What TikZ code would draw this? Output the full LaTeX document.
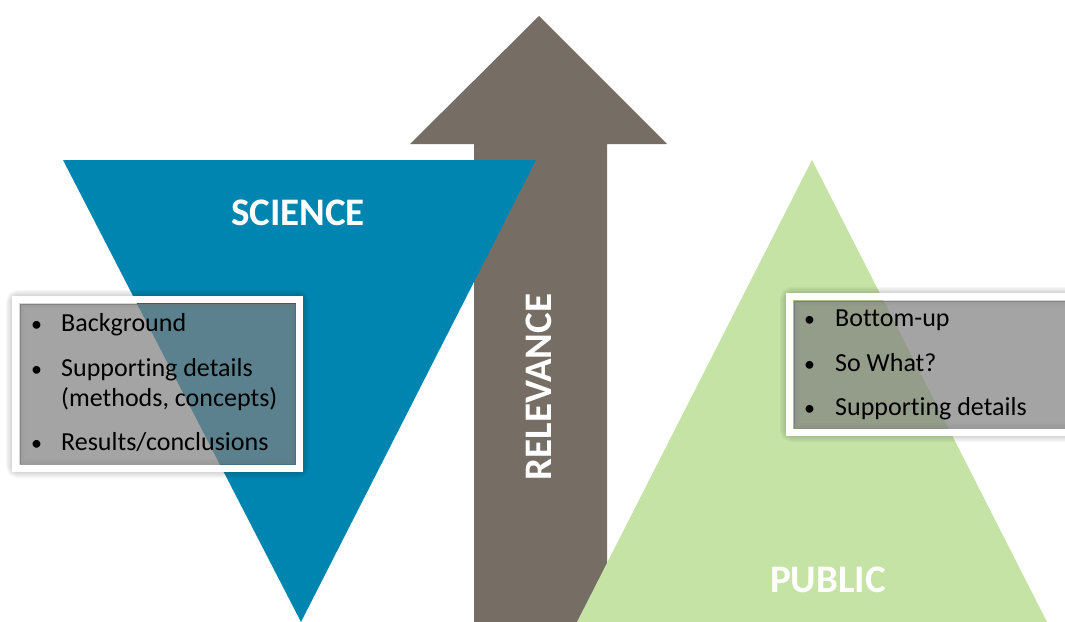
\documentclass[tikz,border=0pt]{standalone}
\usepackage{fontspec}
\setmainfont{Carlito}[Ligatures=NoCommon]
\definecolor{sciblue}{RGB}{0,133,176}
\definecolor{relgray}{RGB}{118,109,101}
\definecolor{pubgreen}{RGB}{197,227,165}
\tikzset{
  title/.style={text=white, font=\fontsize{39}{44}\selectfont\bfseries},
  item/.style={anchor=west, inner sep=0pt, text height=18pt, text depth=2pt, font=\fontsize{26}{30}\selectfont},
  dot/.style={item, font=\fontsize{22}{26}\selectfont},
  frame/.style={draw=white, line width=7pt, fill=none},
  glass/.style={fill=black!50, fill opacity=0.71, draw=black!55, draw opacity=0.6, line width=1pt}
}
\begin{document}
\begin{tikzpicture}[x=1pt,y=-1pt]
  \clip (0,0) rectangle (1065,621);
  \fill[white] (0,0) rectangle (1065,621);

  \fill[relgray] (539,16) -- (667,144) -- (607,144) -- (607,625) -- (474,625) -- (474,144) -- (410,144) -- cycle;
  \fill[sciblue] (63,160) -- (536,160) -- (301,622) -- cycle;
  \fill[pubgreen] (812,160) -- (1047,622) -- (577,622) -- cycle;

  \node[title] (science) at (298,213) {SCIENCE};
  \node[title, rotate=90] (relevance) at (539,387) {RELEVANCE};
  \node[title] (public) at (828,580) {PUBLIC};

  \foreach \i in {1,...,5} {
    \draw[black, opacity=0.03, line width=7pt+\i*2.4pt, rounded corners=3pt] (15.5,299.5) rectangle (299.5,468.5);
    \draw[black, opacity=0.03, line width=7pt+\i*2.4pt, rounded corners=3pt] (789.5,296.5) rectangle (1075,432.5);
  }
  \draw[frame] (15.5,299.5) rectangle (299.5,468.5);
  \draw[frame] (789.5,296.5) rectangle (1075,432.5);
  \draw[glass] (20,304) rectangle (295,464);
  \draw[glass] (794,301) rectangle (1070,428);

  \node[dot] (b1) at (31,323) {•}; \node[item] (bg) at (61,323) {Background};
  \node[dot] (b2) at (31,368) {•}; \node[item] (sd) at (61,368) {Supporting details};
  \node[item] (mc) at (61,398) {(methods, concepts)};
  \node[dot] (b3) at (31,442) {•}; \node[item] (rc) at (61,442) {Results/conclusions};

  \node[dot] (b4) at (804,318) {•}; \node[item] (bu) at (835,318) {Bottom-up};
  \node[dot] (b5) at (804,363) {•}; \node[item] (sw) at (835,363) {So What?};
  \node[dot] (b6) at (804,407) {•}; \node[item] (sp) at (835,407) {Supporting details};
\end{tikzpicture}
\end{document}
